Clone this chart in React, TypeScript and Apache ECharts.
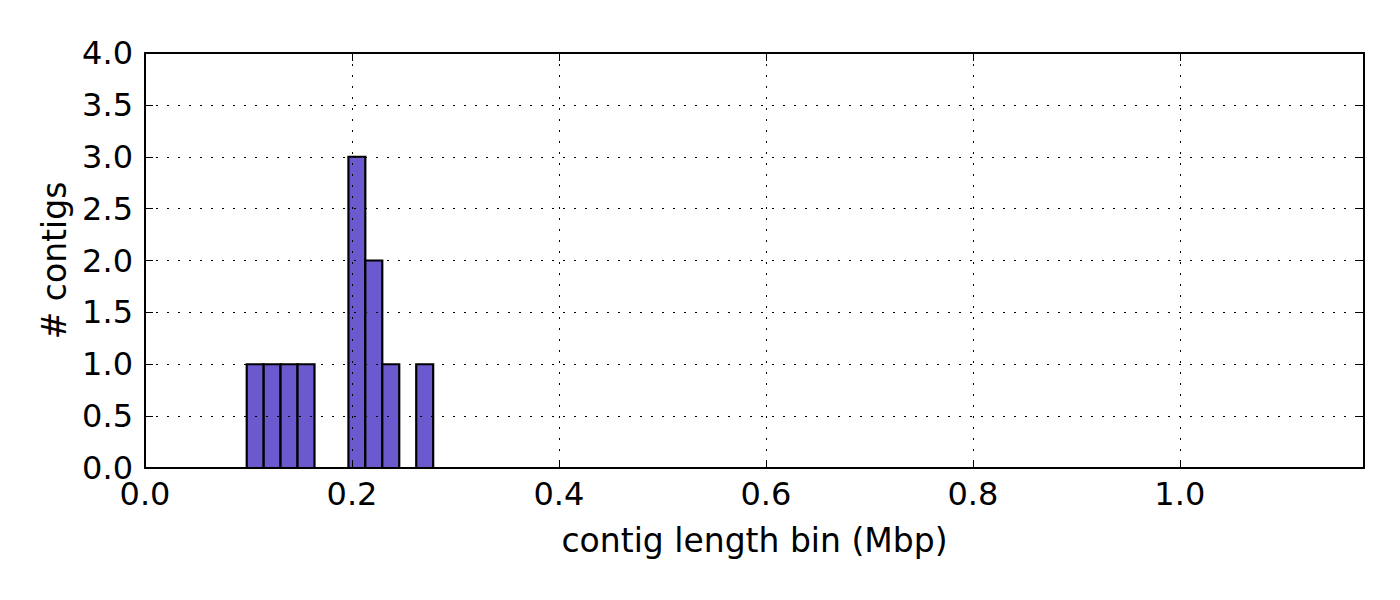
import React, { useEffect, useRef } from "react";
import * as echarts from "echarts";

// Histogram bins (Mbp): start, end, count
const binStarts = [0.0983, 0.1147, 0.131, 0.1474, 0.1966, 0.2129, 0.2293, 0.2621];
const binEnds = [0.1147, 0.131, 0.1474, 0.1638, 0.2129, 0.2293, 0.2457, 0.2785];
const counts = [1, 1, 1, 1, 3, 2, 1, 1];

const xMin = 0;
const xMax = 1.178;
const yMin = 0;
const yMax = 4;

const FONT = "DejaVu Sans";

export default function App() {
  const ref = useRef<HTMLDivElement>(null);
  useEffect(() => {
    document.body.style.margin = "0";
    const chart = echarts.init(ref.current!, null, { renderer: "svg" });
    const data = binStarts.map((s, i) => [s, binEnds[i], counts[i]]);
    const gridLine = { show: true, lineStyle: { color: "#000", width: 1, type: [2, 9] as any } };
    const axisLine = { show: true, onZero: false, lineStyle: { color: "#000", width: 2 } };
    const tick = { show: true, inside: true, length: 8, lineStyle: { color: "#000", width: 1 } };
    chart.setOption({
      animation: false,
      backgroundColor: "#fff",
      textStyle: { fontFamily: FONT },
      grid: { left: 145, right: 36, top: 53, bottom: 132 },
      xAxis: [
        {
          type: "value",
          z: 5,
          min: xMin,
          max: xMax,
          interval: 0.2,
          position: "bottom",
          axisLine,
          axisTick: tick,
          splitLine: gridLine,
          axisLabel: {
            show: true,
            showMaxLabel: false,
            margin: 10,
            fontSize: 32,
            color: "#000",
            fontFamily: FONT,
            formatter: (v: number) => v.toFixed(1),
          },
          name: "contig length bin (Mbp)",
          nameLocation: "middle",
          nameGap: 56,
          nameTextStyle: { fontSize: 33, color: "#000", fontFamily: FONT },
        },
        {
          type: "value",
          z: 5,
          min: xMin,
          max: xMax,
          interval: 0.2,
          position: "top",
          axisLine,
          axisTick: tick,
          splitLine: { show: false },
          axisLabel: { show: false },
        },
      ],
      yAxis: [
        {
          type: "value",
          z: 5,
          min: yMin,
          max: yMax,
          interval: 0.5,
          position: "left",
          axisLine,
          axisTick: tick,
          splitLine: gridLine,
          axisLabel: {
            show: true,
            margin: 12,
            fontSize: 32,
            color: "#000",
            fontFamily: FONT,
            formatter: (v: number) => v.toFixed(1),
          },
          name: "# contigs",
          nameLocation: "middle",
          nameGap: 73,
          nameTextStyle: { fontSize: 33, color: "#000", fontFamily: FONT },
        },
        {
          type: "value",
          z: 5,
          min: yMin,
          max: yMax,
          interval: 0.5,
          position: "right",
          axisLine,
          axisTick: tick,
          splitLine: { show: false },
          axisLabel: { show: false },
        },
      ],
      series: [
        {
          type: "custom",
          z: 1,
          xAxisIndex: 0,
          yAxisIndex: 0,
          encode: { x: [0, 1], y: 2 },
          data,
          renderItem: (params: any, api: any) => {
            const p0 = api.coord([api.value(0), api.value(2)]);
            const p1 = api.coord([api.value(1), 0]);
            return {
              type: "rect",
              shape: { x: p0[0], y: p0[1], width: p1[0] - p0[0], height: p1[1] - p0[1] },
              style: { fill: "#6a5acd", stroke: "#000", lineWidth: 2.2 },
            };
          },
        },
      ],
    });
    return () => chart.dispose();
  }, []);
  return <div ref={ref} style={{ width: 1400, height: 600 }} />;
}
